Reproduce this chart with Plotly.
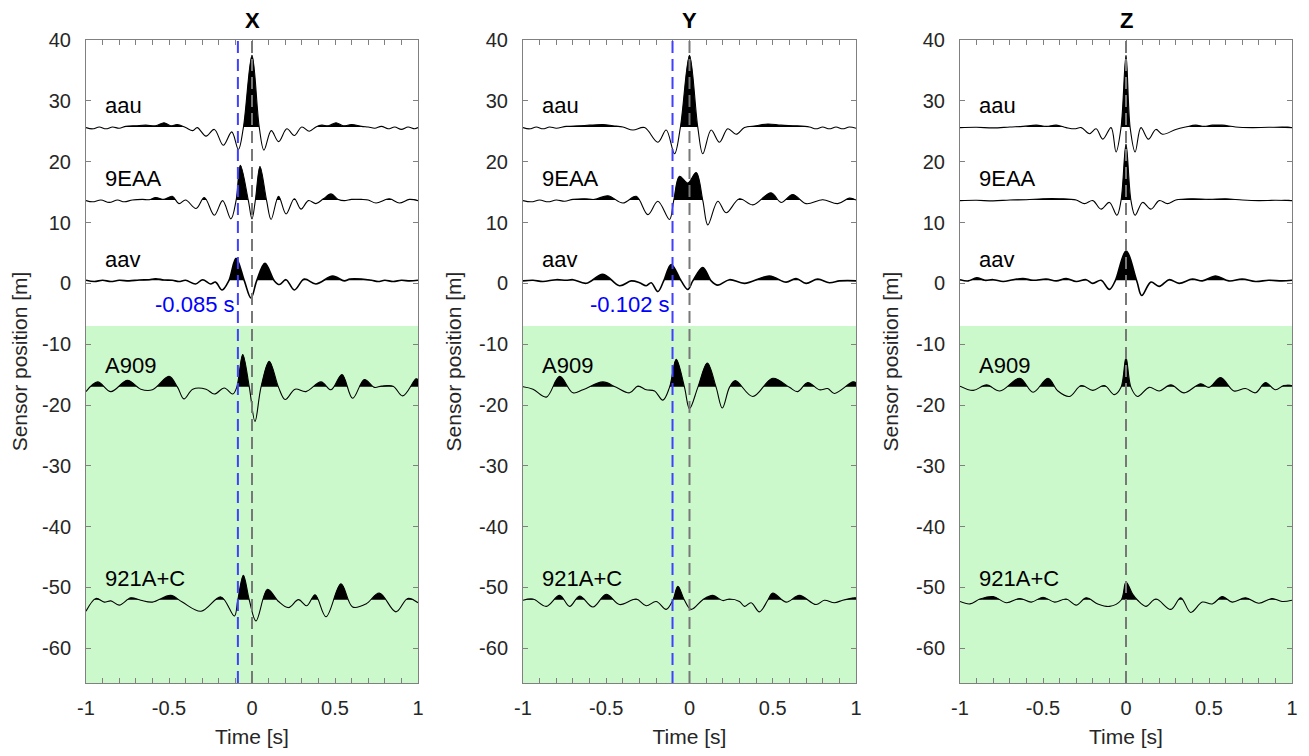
import plotly.graph_objects as go
from plotly.subplots import make_subplots

# ---------------- data (time [s], amplitude [m] relative to sensor baseline) ----------------
PANELS = ["X", "Y", "Z"]
SENSORS = ["aau", "9EAA", "aav", "A909", "921A+C"]
BASELINES = [25.6, 13.6, 0.4, -17.1, -52.1]
SHIFT_TIMES = [-0.085, -0.102, None]
SHIFT_LABELS = ["-0.085 s", "-0.102 s", None]
GREEN_TOP = -7.0
X_TICKS = [-1, -0.5, 0, 0.5, 1]
X_TICK_TEXT = ["-1", "-0.5", "0", "0.5", "1"]
Y_TICKS = [-60, -50, -40, -30, -20, -10, 0, 10, 20, 30, 40]
Y_TICK_TEXT = ["-60", "-50", "-40", "-30", "-20", "-10", "0", "10", "20", "30", "40"]

X_AAU = [(-1.0, 0.0), (-0.96, -0.2), (-0.92, 0.1), (-0.88, -0.2), (-0.84, 0.1), (-0.80, -0.1), (-0.76, 0.2),
         (-0.70, 0.3), (-0.64, 0.4), (-0.58, 0.3), (-0.53, 0.8), (-0.49, 0.3), (-0.45, 0.5), (-0.40, 0.0),
         (-0.357, -0.5), (-0.33, 0.0), (-0.277, -1.4), (-0.227, -0.3), (-0.173, -2.9), (-0.122, -0.7),
         (-0.082, -3.6), (-0.052, 0.0), (0.0, 11.9), (0.044, 0.0), (0.072, -3.7), (0.116, -0.5), (0.16, -2.3),
         (0.21, -0.2), (0.255, -1.3), (0.30, 0.1), (0.345, -0.6), (0.385, 0.1), (0.42, 0.4), (0.46, 0.3),
         (0.506, 0.8), (0.55, 0.3), (0.60, 0.5), (0.66, 0.2), (0.70, 0.1), (0.74, -0.1), (0.78, 0.2),
         (0.82, -0.2), (0.86, 0.1), (0.90, -0.3), (0.94, 0.1), (0.98, -0.2), (1.0, 0.0)]
X_9EAA = [(-1.0, 0.0), (-0.96, -0.2), (-0.91, 0.1), (-0.86, -0.3), (-0.81, 0.1), (-0.77, -0.2), (-0.72, 0.1),
          (-0.66, 0.2), (-0.62, 0.15), (-0.58, 0.5), (-0.53, 0.2), (-0.48, 0.7), (-0.44, -0.5), (-0.40, 0.1),
          (-0.337, -1.3), (-0.287, 0.5), (-0.227, -2.4), (-0.177, 0.0), (-0.127, -3.0), (-0.096, 0.0),
          (-0.07, 5.8), (-0.022, 0.0), (0.0, -3.0), (0.02, 0.0), (0.048, 5.6), (0.088, 0.0), (0.115, -3.1),
          (0.16, 0.7), (0.205, -2.2), (0.255, 0.3), (0.295, -1.4), (0.34, 0.0), (0.385, -0.5), (0.43, 0.3),
          (0.476, 1.1), (0.52, 0.2), (0.556, 0.0), (0.60, 0.2), (0.66, 0.2), (0.70, 0.1), (0.747, -0.4),
          (0.827, 0.3), (0.888, -0.4), (0.948, 0.2), (1.0, 0.0)]
X_AAV = [(-1.0, 0.1), (-0.95, -0.1), (-0.90, 0.1), (-0.85, -0.1), (-0.80, 0.1), (-0.74, 0.0), (-0.68, 0.15),
         (-0.62, 0.2), (-0.58, 0.35), (-0.53, 0.15), (-0.48, 0.1), (-0.44, -0.1), (-0.40, 0.1), (-0.34, -0.5),
         (-0.297, 0.2), (-0.25, -0.5), (-0.22, -0.2), (-0.18, -1.5), (-0.14, 0.0), (-0.096, 3.7),
         (-0.046, 0.0), (-0.006, -2.8), (0.028, 0.0), (0.078, 2.9), (0.135, 0.0), (0.165, -0.6), (0.205, 0.2),
         (0.255, -1.5), (0.315, 0.3), (0.385, -0.5), (0.486, 0.8), (0.556, 0.0), (0.59, 0.3), (0.66, 0.3),
         (0.72, 0.1), (0.76, -0.1), (0.80, 0.1), (0.85, -0.1), (0.90, 0.1), (0.95, 0.0), (1.0, 0.1)]
X_A909 = [(-1.0, -0.7), (-0.93, 0.9), (-0.85, -0.7), (-0.75, 1.15), (-0.67, -0.3), (-0.60, -0.4), (-0.50, 1.8),
          (-0.448, 0.0), (-0.41, -1.9), (-0.357, -0.3), (-0.277, -0.3), (-0.227, -1.1), (-0.167, -0.1),
          (-0.116, -1.1), (-0.092, 0.0), (-0.056, 5.4), (-0.016, 0.0), (0.018, -5.6), (0.054, 0.0),
          (0.104, 4.3), (0.16, 0.0), (0.20, -2.0), (0.26, -0.3), (0.325, -0.7), (0.416, 0.9), (0.476, -0.4),
          (0.542, 2.1), (0.606, -1.8), (0.677, 1.3), (0.737, 0.0), (0.78, 0.2), (0.85, 0.2), (0.908, -1.4),
          (0.988, 1.4), (1.0, 1.3)]
X_921 = [(-1.0, -1.8), (-0.94, 0.3), (-0.89, -0.3), (-0.85, -0.1), (-0.80, -0.8), (-0.73, 0.4), (-0.67, 0.0),
         (-0.60, -0.3), (-0.49, 0.8), (-0.42, -0.3), (-0.307, -1.8), (-0.187, 0.55), (-0.106, -2.6),
         (-0.086, 0.0), (-0.052, 4.1), (-0.016, 0.0), (0.024, -3.4), (0.094, 1.8), (0.16, -0.2), (0.22, -1.2),
         (0.28, 0.1), (0.33, -0.9), (0.38, 0.9), (0.446, -2.7), (0.536, 2.7), (0.606, -1.1), (0.687, -0.6),
         (0.767, 1.2), (0.867, -1.9), (0.938, 0.3), (1.0, -0.4)]

Y_AAU = [(-1.0, 0.0), (-0.96, -0.2), (-0.92, 0.1), (-0.88, -0.2), (-0.84, 0.1), (-0.80, -0.1), (-0.74, 0.2),
         (-0.66, 0.3), (-0.60, 0.4), (-0.52, 0.5), (-0.46, 0.3), (-0.40, 0.1), (-0.34, -0.4), (-0.27, 0.0),
         (-0.19, -2.4), (-0.14, -0.4), (-0.09, -4.3), (-0.055, 0.0), (0.0, 11.9), (0.05, 0.0), (0.08, -4.3),
         (0.13, -0.4), (0.18, -2.4), (0.23, -0.2), (0.28, -1.1), (0.33, 0.0), (0.40, 0.3), (0.47, 0.6),
         (0.55, 0.4), (0.64, 0.3), (0.72, 0.1), (0.76, -0.2), (0.80, 0.1), (0.84, -0.2), (0.88, 0.1),
         (0.92, -0.2), (0.96, 0.1), (1.0, -0.1)]
Y_9EAA = [(-1.0, 0.0), (-0.95, -0.2), (-0.90, 0.1), (-0.85, -0.2), (-0.80, 0.1), (-0.75, -0.1), (-0.70, 0.2),
          (-0.63, 0.3), (-0.57, 0.2), (-0.49, 0.8), (-0.40, -0.4), (-0.32, 0.7), (-0.25, -2.3), (-0.19, -0.1),
          (-0.12, -3.1), (-0.095, 0.0), (-0.06, 4.0), (-0.01, 2.9), (0.04, 4.6), (0.08, 0.0), (0.11, -4.0),
          (0.17, -0.1), (0.22, -2.0), (0.30, 0.3), (0.38, -0.7), (0.49, 1.3), (0.55, -0.3), (0.62, 1.0),
          (0.70, -0.5), (0.80, 0.15), (0.89, -0.5), (0.96, 0.4), (1.0, 0.1)]
Y_AAV = [(-1.0, 0.0), (-0.94, 0.1), (-0.88, -0.1), (-0.80, 0.2), (-0.74, 0.1), (-0.70, 0.2), (-0.62, -0.4),
         (-0.52, 1.1), (-0.42, -0.8), (-0.35, 0.0), (-0.30, -0.3), (-0.26, -0.8), (-0.23, -0.3), (-0.19, -1.75),
         (-0.155, 0.0), (-0.11, 2.7), (-0.05, 0.0), (-0.01, -1.4), (0.02, 0.0), (0.08, 2.2), (0.13, 0.0),
         (0.17, -0.7), (0.24, 0.2), (0.33, -0.4), (0.48, 0.8), (0.58, -0.2), (0.64, 0.4), (0.70, -0.4),
         (0.77, 0.3), (0.84, -0.3), (0.90, 0.0), (0.95, 0.05), (1.0, 0.0)]
Y_A909 = [(-1.0, 0.1), (-0.94, -0.3), (-0.86, -1.6), (-0.78, 1.8), (-0.70, -0.9), (-0.64, -0.4), (-0.52, 0.9),
          (-0.44, 0.0), (-0.36, -0.9), (-0.31, 0.2), (-0.26, -0.4), (-0.21, -0.6), (-0.16, -2.1), (-0.12, 0.0),
          (-0.08, 4.6), (-0.03, 0.0), (0.0, -3.5), (0.05, 0.0), (0.107, 4.0), (0.16, 0.0), (0.197, -3.4),
          (0.24, 0.0), (0.275, 1.1), (0.38, -1.5), (0.50, 1.5), (0.60, 0.0), (0.65, -0.7), (0.71, 0.8),
          (0.78, -0.4), (0.83, -0.2), (0.87, -1.0), (0.98, 0.9), (1.0, 0.8)]
Y_921 = [(-1.0, 0.0), (-0.94, 0.2), (-0.86, -1.0), (-0.78, 0.8), (-0.72, -1.0), (-0.66, 0.7), (-0.58, -1.1),
         (-0.50, 1.0), (-0.42, -0.7), (-0.32, 0.2), (-0.26, -0.9), (-0.20, -0.2), (-0.14, -1.5), (-0.10, 0.0),
         (-0.07, 2.3), (-0.03, 0.0), (0.01, -1.5), (0.08, 0.1), (0.14, 0.8), (0.20, -0.05), (0.24, 0.2),
         (0.30, -0.2), (0.33, -1.0), (0.37, -0.4), (0.42, -1.9), (0.47, 0.0), (0.50, 1.2), (0.58, -0.3),
         (0.66, 0.8), (0.76, -0.7), (0.81, 0.0), (0.87, -0.4), (0.92, 0.0), (0.99, 0.4), (1.0, 0.4)]

Z_AAU = [(-1.0, 0.0), (-0.90, 0.05), (-0.80, -0.05), (-0.70, 0.1), (-0.62, 0.2), (-0.54, 0.4), (-0.48, 0.2),
         (-0.42, 0.4), (-0.36, 0.0), (-0.31, -0.2), (-0.27, 0.0), (-0.22, -1.0), (-0.18, -0.2), (-0.14, -1.9),
         (-0.09, 0.0), (-0.06, -4.0), (-0.03, 0.0), (0.0, 11.9), (0.025, 0.0), (0.055, -4.0), (0.09, 0.0),
         (0.135, -1.9), (0.18, -0.3), (0.22, -1.1), (0.30, -0.3), (0.36, 0.1), (0.42, 0.4), (0.47, 0.2),
         (0.52, 0.4), (0.58, 0.4), (0.66, 0.1), (0.76, 0.0), (0.86, 0.05), (1.0, 0.0)]
Z_9EAA = [(-1.0, 0.0), (-0.90, 0.05), (-0.80, -0.05), (-0.70, 0.1), (-0.60, 0.15), (-0.50, 0.3), (-0.40, 0.3),
          (-0.30, 0.1), (-0.25, -0.5), (-0.20, 0.0), (-0.15, -1.4), (-0.10, -0.3), (-0.055, -2.4),
          (-0.03, 0.0), (0.0, 9.3), (0.03, 0.0), (0.055, -2.4), (0.10, -0.3), (0.15, -1.4), (0.20, 0.0),
          (0.25, -0.5), (0.30, 0.1), (0.40, 0.3), (0.50, 0.2), (0.60, 0.3), (0.70, 0.1), (0.80, 0.0),
          (0.90, 0.05), (1.0, 0.0)]
Z_AAV = [(-1.0, 0.2), (-0.95, 0.0), (-0.90, 0.5), (-0.85, 0.1), (-0.80, 0.2), (-0.74, -0.1), (-0.68, 0.2),
         (-0.62, 0.4), (-0.56, 0.1), (-0.48, 0.3), (-0.42, 0.0), (-0.36, 0.4), (-0.30, -0.1), (-0.24, 0.2),
         (-0.20, -0.4), (-0.15, 0.1), (-0.10, -1.4), (-0.065, 0.0), (0.0, 4.9), (0.065, 0.0), (0.095, -2.4),
         (0.15, -0.2), (0.20, -0.9), (0.26, 0.2), (0.32, -0.4), (0.40, 0.3), (0.46, 0.0), (0.54, 0.8),
         (0.62, 0.0), (0.70, 0.3), (0.78, -0.1), (0.86, 0.1), (0.94, 0.0), (1.0, 0.1)]
Z_A909 = [(-1.0, 0.2), (-0.92, -0.5), (-0.84, 0.4), (-0.76, -0.6), (-0.64, 1.5), (-0.56, -0.8), (-0.47, 1.5),
          (-0.41, -0.6), (-0.34, -1.5), (-0.27, 0.3), (-0.20, -0.5), (-0.13, 0.3), (-0.07, -1.2), (-0.03, 0.0),
          (0.0, 4.9), (0.03, 0.0), (0.07, -1.5), (0.14, 0.0), (0.20, -0.6), (0.27, 0.4), (0.35, -0.9),
          (0.45, 0.6), (0.50, 0.0), (0.57, 1.6), (0.65, -0.6), (0.72, -0.2), (0.78, -0.9), (0.84, 0.8),
          (0.90, -0.4), (0.95, 0.3), (1.0, 0.3)]
Z_921 = [(-1.0, -0.2), (-0.94, -0.6), (-0.88, 0.2), (-0.80, 0.6), (-0.72, -0.4), (-0.64, 0.3), (-0.57, -0.3),
         (-0.50, 0.5), (-0.43, -0.3), (-0.36, 0.2), (-0.30, -0.8), (-0.24, 0.4), (-0.17, -0.6), (-0.10, -1.0),
         (-0.03, 0.0), (0.0, 3.0), (0.04, 1.0), (0.07, 0.0), (0.12, -1.0), (0.18, 0.2), (0.27, -1.5),
         (0.33, 0.4), (0.39, -2.0), (0.46, -0.3), (0.52, -0.6), (0.58, 0.6), (0.64, -0.3), (0.72, 0.4),
         (0.80, -0.5), (0.88, 0.3), (0.94, -0.2), (1.0, 0.0)]

WAVES = [
    [X_AAU, X_9EAA, X_AAV, X_A909, X_921],
    [Y_AAU, Y_9EAA, Y_AAV, Y_A909, Y_921],
    [Z_AAU, Z_9EAA, Z_AAV, Z_A909, Z_921],
]

# ---------------- styling / layout ----------------
PAGE_MARGIN = 8                     # default body margin of the html page
W, H = 1309 - 2 * PAGE_MARGIN, 756 - 2 * PAGE_MARGIN
Y_RANGE = [-65.7, 40]
X_RANGE = [-1, 1]
PX_DOMAINS = [(86, 418), (523, 856), (960, 1292)]   # page pixels
TOP_PX, BOT_PX = 40, 683
GREEN = "rgb(204,249,204)"
FONT = "Liberation Sans, Arial, Helvetica, sans-serif"
TXT = "#262626"
AXC = "#808080"
LABEL_SIZE = 22

fig = make_subplots(rows=1, cols=3)

for p, panel in enumerate(PANELS):
    col = p + 1
    xr = "x" if p == 0 else f"x{col}"
    yr = "y" if p == 0 else f"y{col}"
    for s, name in enumerate(SENSORS):
        base = BASELINES[s]
        bg = GREEN if base < GREEN_TOP else "white"
        t = [pt[0] for pt in WAVES[p][s]]
        y = [base + pt[1] for pt in WAVES[p][s]]
        # black fill between trace and (slightly lowered) baseline
        fig.add_trace(go.Scatter(
            x=t + t[::-1], y=y + [base - 0.5] * len(t), mode="lines", fill="toself",
            fillcolor="black", line=dict(width=0, shape="spline", color="black"),
            hoverinfo="skip", showlegend=False), row=1, col=col)
        # hide the negative half with the background colour
        fig.add_trace(go.Scatter(
            x=[-1.05, 1.05, 1.05, -1.05, -1.05], y=[base + 0.1, base + 0.1, base - 7, base - 7, base + 0.1],
            mode="lines", fill="toself", fillcolor=bg, line=dict(width=0, color=bg),
            hoverinfo="skip", showlegend=False), row=1, col=col)
        # the wiggle line
        fig.add_trace(go.Scatter(
            x=t, y=y, mode="lines",
            line=dict(color="black", width=1.6 if name == "aav" else 1.1, shape="spline", smoothing=1),
            hoverinfo="skip", showlegend=False), row=1, col=col)

        fig.add_annotation(x=-0.895, y=base + 3.6, xref=xr, yref=yr, text=name, showarrow=False,
                           xanchor="left", yanchor="middle",
                           font=dict(family=FONT, size=LABEL_SIZE, color="black"))

shapes = []
for p in range(3):
    xr = "x" if p == 0 else f"x{p+1}"
    yr = "y" if p == 0 else f"y{p+1}"
    shapes.append(dict(type="rect", xref=xr, yref=yr, x0=X_RANGE[0], x1=X_RANGE[1], y0=Y_RANGE[0], y1=GREEN_TOP,
                       fillcolor=GREEN, line=dict(width=0), layer="below"))
    if SHIFT_TIMES[p] is not None:
        shapes.append(dict(type="line", xref=xr, yref=yr, x0=SHIFT_TIMES[p], x1=SHIFT_TIMES[p],
                           y0=Y_RANGE[0], y1=Y_RANGE[1], layer="above",
                           line=dict(color="rgb(64,64,255)", width=2, dash="12px,6px")))
        fig.add_annotation(x=SHIFT_TIMES[p], y=-3.4, xref=xr, yref=yr, text=SHIFT_LABELS[p],
                           showarrow=False, xanchor="right", yanchor="middle", xshift=-1,
                           font=dict(family=FONT, size=LABEL_SIZE, color="rgb(0,0,255)"))
    shapes.append(dict(type="line", xref=xr, yref=yr, x0=0, x1=0, y0=Y_RANGE[0], y1=Y_RANGE[1], layer="above",
                       line=dict(color="rgb(120,120,120)", width=2, dash="12px,6px")))
    x0, x1 = PX_DOMAINS[p]
    fig.add_annotation(x=((x0 + x1) / 2 - PAGE_MARGIN) / W, y=1 - (20 - PAGE_MARGIN) / H,
                       xref="paper", yref="paper", text=f"<b>{PANELS[p]}</b>", showarrow=False,
                       xanchor="center", yanchor="middle", font=dict(family=FONT, size=22, color="black"))

fig.update_layout(shapes=shapes)

ydom = [1 - (BOT_PX - PAGE_MARGIN) / H, 1 - (TOP_PX - PAGE_MARGIN) / H]
for p in range(3):
    x0, x1 = PX_DOMAINS[p]
    xkey = "xaxis" if p == 0 else f"xaxis{p+1}"
    ykey = "yaxis" if p == 0 else f"yaxis{p+1}"
    fig.layout[xkey].update(
        domain=[(x0 - PAGE_MARGIN) / W, (x1 - PAGE_MARGIN) / W], range=X_RANGE, automargin=False,
        tickvals=X_TICKS, ticktext=X_TICK_TEXT, ticklabelstandoff=7,
        ticks="inside", ticklen=5, tickcolor=AXC, showline=True, linecolor=AXC, linewidth=1, mirror="ticks",
        showgrid=False, zeroline=False, tickfont=dict(family=FONT, size=20, color=TXT),
        minor=dict(ticks="inside", dtick=0.1, tick0=0, ticklen=5, tickcolor=AXC, showgrid=False),
        title=dict(text="Time [s]", font=dict(family=FONT, size=21, color=TXT), standoff=11))
    fig.layout[ykey].update(
        domain=ydom, range=Y_RANGE, tickvals=Y_TICKS, ticktext=Y_TICK_TEXT, ticklabelstandoff=10,
        automargin=False,
        ticks="inside", ticklen=5, tickcolor=AXC, showline=True, linecolor=AXC, linewidth=1, mirror="ticks",
        showgrid=False, zeroline=False, tickfont=dict(family=FONT, size=20, color=TXT),
        title=dict(text="Sensor position [m]", font=dict(family=FONT, size=21, color=TXT), standoff=11))

fig.update_layout(width=W, height=H, margin=dict(l=0, r=0, t=0, b=0),
                  plot_bgcolor="white", paper_bgcolor="white", showlegend=False)

fig.write_html("out.html", config={"displayModeBar": False})
